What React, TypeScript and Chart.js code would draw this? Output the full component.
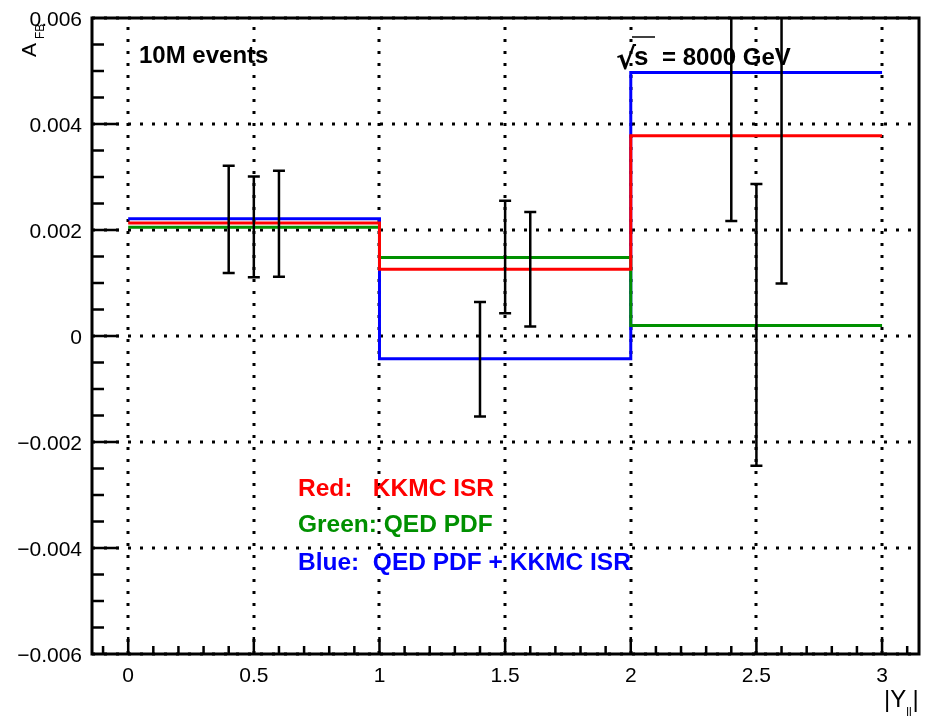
import React, { useEffect, useRef } from "react";
import { Chart, registerables } from "chart.js";

Chart.register(...registerables);

// ---- data ----
const binEdges = [0, 1, 2, 3];
const redValues = [0.00213, 0.00126, 0.00378];
const greenValues = [0.00205, 0.00148, 0.0002];
const blueValues = [0.00221, -0.00043, 0.00497];

const pointX = [0.4, 0.5, 0.6, 1.4, 1.5, 1.6, 2.4, 2.5, 2.6];
const pointY = [0.0022, 0.00206, 0.00212, -0.00044, 0.00149, 0.00126, 0.00496, 0.00021, 0.00377];
const pointErr = [0.00101, 0.00095, 0.001, 0.00108, 0.00106, 0.00108, 0.00279, 0.00266, 0.00278];

const xTickValues = [0, 0.5, 1, 1.5, 2, 2.5, 3];
const xTickLabels = ["0", "0.5", "1", "1.5", "2", "2.5", "3"];
const yTickValues = [-0.006, -0.004, -0.002, 0, 0.002, 0.004, 0.006];
const yTickLabels = ["\u22120.006", "\u22120.004", "\u22120.002", "0", "0.002", "0.004", "0.006"];

const RED = "#ff0000";
const GREEN = "#009000";
const BLUE = "#0000ff";
const FONT = "'Liberation Sans', Arial, Helvetica, sans-serif";

function stepPoints(vals: number[]) {
  return binEdges.map((e, i) => ({ x: e, y: vals[Math.min(i, vals.length - 1)] }));
}

const rootPlugin = {
  id: "rootStyle",
  beforeDatasetsDraw(chart: any) {
    const { ctx, chartArea: a, scales } = chart;
    const x = scales.x;
    const y = scales.y;
    ctx.save();
    ctx.strokeStyle = "#000";
    ctx.lineWidth = 3;
    ctx.setLineDash([3, 9]);
    for (const v of xTickValues) {
      const px = Math.round(x.getPixelForValue(v));
      ctx.beginPath();
      ctx.moveTo(px, a.bottom);
      ctx.lineTo(px, a.top);
      ctx.stroke();
    }
    for (const v of yTickValues) {
      const py = Math.round(y.getPixelForValue(v));
      ctx.beginPath();
      ctx.moveTo(a.left, py);
      ctx.lineTo(a.right, py);
      ctx.stroke();
    }
    ctx.restore();
  },
  afterDatasetsDraw(chart: any) {
    const { ctx, chartArea: a, scales } = chart;
    const x = scales.x;
    const y = scales.y;
    // error bars
    ctx.save();
    ctx.beginPath();
    ctx.rect(a.left, a.top, a.right - a.left, a.bottom - a.top);
    ctx.clip();
    ctx.strokeStyle = "#000";
    ctx.lineWidth = 2.5;
    for (let i = 0; i < pointX.length; i++) {
      const px = x.getPixelForValue(pointX[i]);
      const pt = y.getPixelForValue(pointY[i] + pointErr[i]);
      const pb = y.getPixelForValue(pointY[i] - pointErr[i]);
      ctx.beginPath();
      ctx.moveTo(px, pt);
      ctx.lineTo(px, pb);
      ctx.moveTo(px - 6, pt);
      ctx.lineTo(px + 6, pt);
      ctx.moveTo(px - 6, pb);
      ctx.lineTo(px + 6, pb);
      ctx.stroke();
    }
    ctx.restore();

    // frame
    ctx.save();
    ctx.strokeStyle = "#000";
    ctx.lineWidth = 3;
    ctx.strokeRect(a.left, a.top, a.right - a.left, a.bottom - a.top);

    // ticks
    ctx.lineWidth = 2.5;
    ctx.beginPath();
    for (let k = -1; k <= 31; k++) {
      const v = k / 10;
      const px = x.getPixelForValue(v);
      if (px < a.left + 2 || px > a.right - 2) continue;
      const major = k % 5 === 0;
      ctx.moveTo(px, a.bottom);
      ctx.lineTo(px, a.bottom - (major ? 17 : 8));
    }
    for (let k = -12; k <= 12; k++) {
      const v = k * 0.0005;
      const py = y.getPixelForValue(v);
      if (py < a.top + 2 || py > a.bottom - 2) continue;
      const major = k % 4 === 0;
      ctx.moveTo(a.left, py);
      ctx.lineTo(a.left + (major ? 27 : 12), py);
    }
    ctx.stroke();

    // tick labels
    ctx.fillStyle = "#000";
    ctx.font = `21px ${FONT}`;
    ctx.textBaseline = "alphabetic";
    ctx.textAlign = "right";
    yTickValues.forEach((v, i) => {
      const py = y.getPixelForValue(v);
      ctx.fillText(yTickLabels[i], a.left - 10, py + 7.5);
    });
    ctx.textAlign = "center";
    xTickValues.forEach((v, i) => {
      const px = x.getPixelForValue(v);
      ctx.fillText(xTickLabels[i], px, a.bottom + 28);
    });

    // axis titles
    ctx.textAlign = "left";
    ctx.font = `24px ${FONT}`;
    ctx.fillText("|Y", 884, 707);
    const wY = ctx.measureText("|Y").width;
    ctx.font = `12px ${FONT}`;
    ctx.fillText("ll", 884 + wY, 716);
    const wll = ctx.measureText("ll").width;
    ctx.font = `24px ${FONT}`;
    ctx.fillText("|", 884 + wY + wll + 1, 707);

    ctx.save();
    ctx.translate(36, 57);
    ctx.rotate(-Math.PI / 2);
    ctx.font = `21px ${FONT}`;
    ctx.fillText("A", 0, 0);
    ctx.font = `12px ${FONT}`;
    ctx.fillText("FB", 18, 8);
    ctx.restore();

    // annotations
    ctx.font = `bold 24px ${FONT}`;
    ctx.fillText("10M events", 139, 63);

    ctx.font = `bold 30px 'DejaVu Sans', ${FONT}`;
    ctx.fillText("\u221A", 616, 69);
    ctx.font = `bold 26px ${FONT}`;
    ctx.fillText("s", 634, 65);
    ctx.font = `bold 24px ${FONT}`;
    ctx.fillText("= 8000 GeV", 662, 65);
    ctx.lineWidth = 1.5;
    ctx.beginPath();
    ctx.moveTo(632, 37);
    ctx.lineTo(655, 37);
    ctx.stroke();

    ctx.font = `bold 24.5px ${FONT}`;
    ctx.fillStyle = RED;
    ctx.fillText("Red:   KKMC ISR", 298, 496);
    ctx.fillStyle = GREEN;
    ctx.fillText("Green: QED PDF", 298, 532);
    ctx.fillStyle = BLUE;
    ctx.fillText("Blue:  QED PDF + KKMC ISR", 298, 570);
    ctx.restore();
  },
};

export default function App() {
  const canvasRef = useRef<HTMLCanvasElement | null>(null);

  useEffect(() => {
    const canvas = canvasRef.current;
    if (!canvas) return;
    const chart = new Chart(canvas, {
      type: "line",
      data: {
        datasets: [
          {
            label: "Red: KKMC ISR",
            data: stepPoints(redValues),
            borderColor: RED,
            borderWidth: 3,
            stepped: true,
            pointRadius: 0,
            fill: false,
          },
          {
            label: "Green: QED PDF",
            data: stepPoints(greenValues),
            borderColor: GREEN,
            borderWidth: 3,
            stepped: true,
            pointRadius: 0,
            fill: false,
          },
          {
            label: "Blue: QED PDF + KKMC ISR",
            data: stepPoints(blueValues),
            borderColor: BLUE,
            borderWidth: 3,
            stepped: true,
            pointRadius: 0,
            fill: false,
          },
        ],
      },
      options: {
        animation: false,
        responsive: false,
        devicePixelRatio: 1,
        layout: { padding: { left: 92, right: 6, top: 18, bottom: 63 } },
        plugins: { legend: { display: false }, tooltip: { enabled: false } },
        scales: {
          x: { type: "linear", min: -0.144, max: 3.147, display: false },
          y: { type: "linear", min: -0.006, max: 0.006, display: false },
        },
      },
      plugins: [rootPlugin],
    } as any);
    return () => chart.destroy();
  }, []);

  return (
    <div style={{ position: "fixed", left: 0, top: 0, width: 925, height: 717, background: "#fff" }}>
      <canvas ref={canvasRef} width={925} height={717} />
    </div>
  );
}
